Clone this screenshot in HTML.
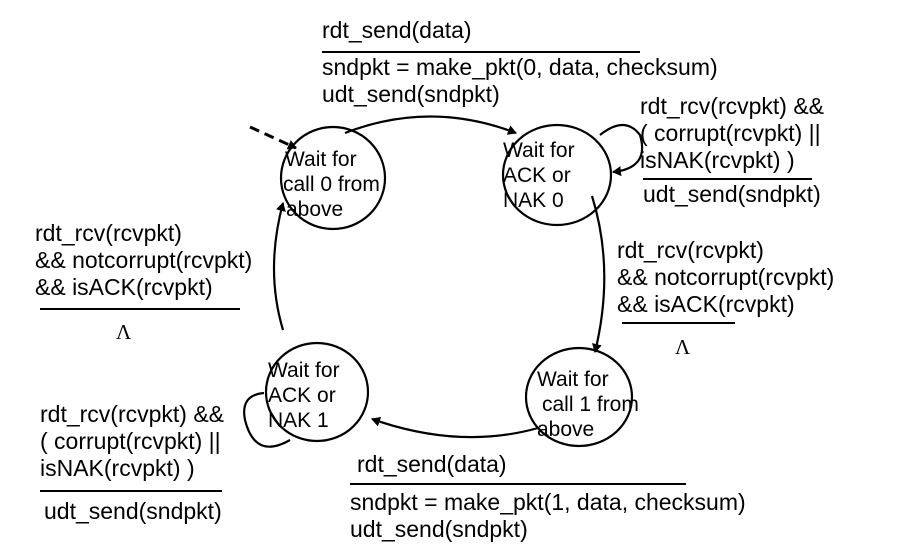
<!DOCTYPE html>
<html><head><style>
html,body{margin:0;padding:0;background:#fff;}
svg{display:block;}
text{font-family:"Liberation Sans",Arial,sans-serif;font-size:23px;fill:#000;}
.s{font-size:21px;}
</style></head><body>
<svg width="900" height="545" viewBox="0 0 900 545" xmlns="http://www.w3.org/2000/svg">
<defs><marker id="a" markerWidth="10" markerHeight="10" refX="8" refY="5" orient="auto" markerUnits="userSpaceOnUse"><path d="M0,0 L9,5 L0,10 Z" fill="#000"/></marker></defs>
<g fill="none" stroke="#000" stroke-width="2.2">
<ellipse cx="333" cy="178" rx="52" ry="51"/>
<ellipse cx="557" cy="175" rx="54" ry="50"/>
<ellipse cx="317" cy="392" rx="51" ry="49"/>
<ellipse cx="579" cy="397" rx="53" ry="49"/>
<path d="M345,133 Q430,100 516,133" marker-end="url(#a)"/>
<path d="M592,196 Q615,270 595,352" marker-end="url(#a)"/>
<path d="M538,428 Q460,450 372,419" marker-end="url(#a)"/>
<path d="M283,330 Q265,270 283,203" marker-end="url(#a)"/>
<path d="M600,135 Q625,115 640,135 Q650,168 613,172" marker-end="url(#a)"/>
<path d="M264,393 Q240,395 245,420 Q255,460 290,440"/>
<path d="M250,127 L296,148" stroke-dasharray="10,6" stroke-width="3" marker-end="url(#a)"/>
</g>
<g stroke="#000" stroke-width="2">
<line x1="322" y1="52" x2="640" y2="52"/>
<line x1="643" y1="179" x2="812" y2="179"/>
<line x1="622" y1="323" x2="735" y2="323"/>
<line x1="40" y1="309" x2="240" y2="309"/>
<line x1="40" y1="491" x2="222" y2="491"/>
<line x1="350" y1="484" x2="686" y2="484"/>
</g>
<text class="s" x="285" y="166">Wait for</text>
<text class="s" x="283" y="191">call 0 from</text>
<text class="s" x="286" y="216">above</text>
<text class="s" x="503" y="157">Wait for</text>
<text class="s" x="503" y="182">ACK or</text>
<text class="s" x="503" y="207">NAK 0</text>
<text class="s" x="268" y="377">Wait for</text>
<text class="s" x="268" y="402">ACK or</text>
<text class="s" x="268" y="427">NAK 1</text>
<text class="s" x="537" y="386">Wait for</text>
<text class="s" x="542" y="411">call 1 from</text>
<text class="s" x="537" y="436">above</text>
<text x="322" y="38">rdt_send(data)</text>
<text x="322" y="75">sndpkt = make_pkt(0, data, checksum)</text>
<text x="322" y="102">udt_send(sndpkt)</text>
<text x="640" y="114">rdt_rcv(rcvpkt) &amp;&amp;</text>
<text x="640" y="141">( corrupt(rcvpkt) ||</text>
<text x="640" y="168">isNAK(rcvpkt) )</text>
<text x="643" y="202">udt_send(sndpkt)</text>
<text x="617" y="258">rdt_rcv(rcvpkt)</text>
<text x="617" y="285">&amp;&amp; notcorrupt(rcvpkt)</text>
<text x="617" y="312">&amp;&amp; isACK(rcvpkt)</text>
<text x="675" y="354" style="font-family:'Liberation Serif',serif;font-size:21px">Λ</text>
<text x="35" y="241">rdt_rcv(rcvpkt)</text>
<text x="35" y="268">&amp;&amp; notcorrupt(rcvpkt)</text>
<text x="35" y="295">&amp;&amp; isACK(rcvpkt)</text>
<text x="116" y="339" style="font-family:'Liberation Serif',serif;font-size:21px">Λ</text>
<text x="40" y="422">rdt_rcv(rcvpkt) &amp;&amp;</text>
<text x="40" y="449">( corrupt(rcvpkt) ||</text>
<text x="40" y="476">isNAK(rcvpkt) )</text>
<text x="44" y="519">udt_send(sndpkt)</text>
<text x="357" y="472">rdt_send(data)</text>
<text x="350" y="510">sndpkt = make_pkt(1, data, checksum)</text>
<text x="350" y="537">udt_send(sndpkt)</text>
</svg>
</body></html>
